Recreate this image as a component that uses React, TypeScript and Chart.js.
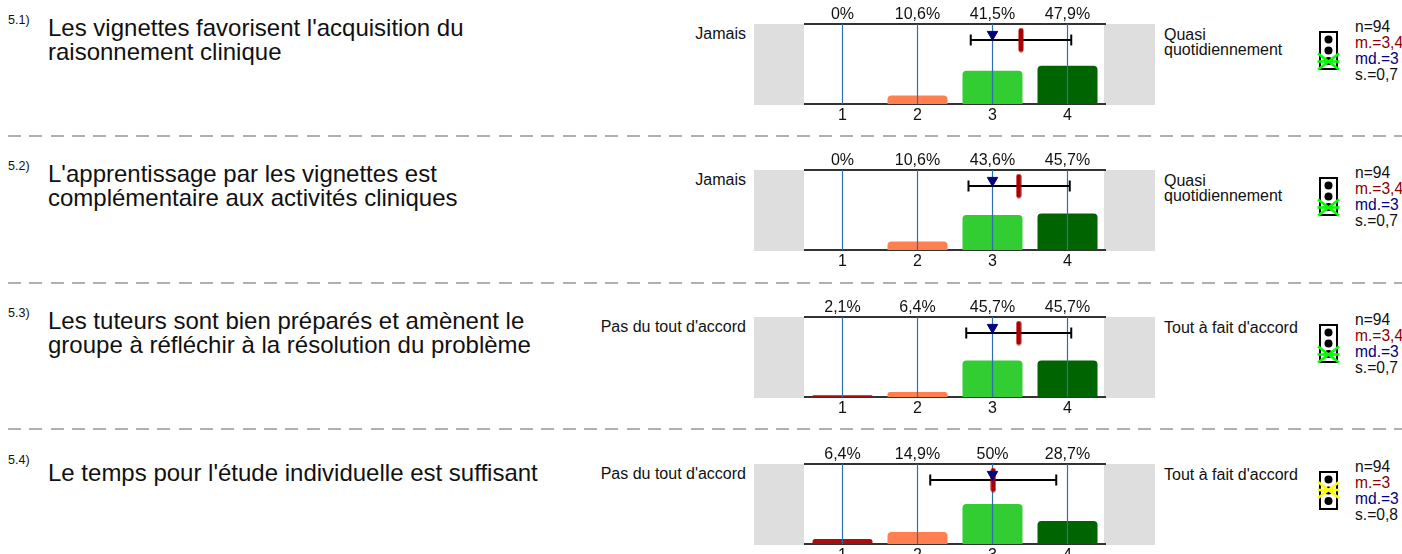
import React, { useEffect, useRef } from "react";
import { Chart, registerables } from "chart.js";

Chart.register(...registerables);

const scaleLabels = ["1", "2", "3", "4"];
const scalePositions = [1, 2, 3, 4];
const barColors = ["#a80e0e", "#ff7f50", "#32cd32", "#006400"];

const ids = ["5.1)", "5.2)", "5.3)", "5.4)"];
const questions = [
  ["Les vignettes favorisent l'acquisition du", "raisonnement clinique"],
  ["L'apprentissage par les vignettes est", "complémentaire aux activités cliniques"],
  ["Les tuteurs sont bien préparés et amènent le", "groupe à réfléchir à la résolution du problème"],
  ["Le temps pour l'étude individuelle est suffisant"],
];
const questionShift = [0, 0, 0, 5];
const leftLabels = ["Jamais", "Jamais", "Pas du tout d'accord", "Pas du tout d'accord"];
const rightLabels = [
  ["Quasi", "quotidiennement"],
  ["Quasi", "quotidiennement"],
  ["Tout à fait d'accord"],
  ["Tout à fait d'accord"],
];

const shares1 = [0, 10.6, 41.5, 47.9];
const shares2 = [0, 10.6, 43.6, 45.7];
const shares3 = [2.1, 6.4, 45.7, 45.7];
const shares4 = [6.4, 14.9, 50, 28.7];
const shareRows = [shares1, shares2, shares3, shares4];
const percentLabels = [
  ["0%", "10,6%", "41,5%", "47,9%"],
  ["0%", "10,6%", "43,6%", "45,7%"],
  ["2,1%", "6,4%", "45,7%", "45,7%"],
  ["6,4%", "14,9%", "50%", "28,7%"],
];

const means = [3.38, 3.35, 3.35, 3.01];
const medians = [3, 3, 3, 3];
const spreadLow = [2.71, 2.68, 2.65, 2.17];
const spreadHigh = [4.05, 4.03, 4.05, 3.85];

const nText = ["n=94", "n=94", "n=94", "n=94"];
const meanText = ["m.=3,4", "m.=3,4", "m.=3,4", "m.=3"];
const medianText = ["md.=3", "md.=3", "md.=3", "md.=3"];
const sdText = ["s.=0,7", "s.=0,7", "s.=0,7", "s.=0,8"];
const lightColors = ["#00ff00", "#00ff00", "#00ff00", "#ffff00"];
const lightCross = [1, 1, 1, 0.5];

const rowTops = [0, 146, 293, 440];
const separators = [135.5, 282.5, 428.5];

const FONT = '"Liberation Sans", Arial, sans-serif';
const INK = "#111111";

function pill(): HTMLCanvasElement {
  const c = document.createElement("canvas");
  c.width = 6;
  c.height = 25;
  const g = c.getContext("2d")!;
  g.fillStyle = "#aa0000";
  g.beginPath();
  (g as any).roundRect(0.5, 0.5, 5, 24, 2.5);
  g.fill();
  return c;
}

function Row({ index }: { index: number }) {
  const ref = useRef<HTMLCanvasElement>(null);
  useEffect(() => {
    const axisFont = { family: FONT, size: 16 };
    const gridLines = scalePositions.map((p) => ({
      type: "line" as const,
      xAxisID: "x2",
      order: 4,
      data: [
        { x: p, y: 0 },
        { x: p, y: 100 },
      ],
      borderColor: "#2b6fb3",
      borderWidth: 1.2,
      pointRadius: 0,
    }));
    const chart = new Chart(ref.current!, {
      type: "bar",
      data: {
        labels: scaleLabels,
        datasets: [
          {
            type: "bar",
            order: 5,
            grouped: false,
            data: shareRows[index],
            backgroundColor: barColors,
            categoryPercentage: 1,
            barPercentage: 0.8,
            borderSkipped: "bottom",
            borderRadius: { topLeft: 4, topRight: 4, bottomLeft: 0, bottomRight: 0 },
          },
          ...gridLines,
          {
            type: "line",
            xAxisID: "x2",
            order: 3,
            data: [
              { x: spreadLow[index], y: 80 },
              { x: spreadHigh[index], y: 80 },
            ],
            borderColor: "#000000",
            borderWidth: 2,
            pointStyle: "line",
            rotation: 90,
            pointRadius: 5.5,
            pointBorderWidth: 2,
            pointBorderColor: "#000000",
          },
          {
            type: "scatter",
            xAxisID: "x2",
            order: 2,
            data: [{ x: means[index], y: 80 }],
            pointStyle: pill(),
          },
          {
            type: "scatter",
            xAxisID: "x2",
            order: 1,
            data: [{ x: medians[index], y: 87 }],
            pointStyle: "triangle",
            rotation: 180,
            pointRadius: 6,
            backgroundColor: "#000080",
            borderColor: "#000080",
          },
        ] as any,
      },
      options: {
        animation: false,
        responsive: false,
        maintainAspectRatio: false,
        layout: { padding: { left: 50, right: 51, top: 0, bottom: 0 } },
        plugins: { legend: { display: false }, tooltip: { enabled: false } },
        scales: {
          x: {
            type: "category",
            position: "bottom",
            offset: true,
            grid: { display: false, drawTicks: false },
            border: { display: true, color: "#333333", width: 2 },
            ticks: { font: axisFont, color: INK, padding: 2, maxRotation: 0, autoSkip: false },
            afterFit: (s: any) => {
              s.height = 26;
            },
          },
          xt: {
            type: "category",
            position: "top",
            offset: true,
            labels: percentLabels[index],
            grid: { display: false, drawTicks: false },
            border: { display: true, color: "#333333", width: 2 },
            ticks: { font: axisFont, color: INK, padding: 0, maxRotation: 0, autoSkip: false },
            afterFit: (s: any) => {
              s.height = 24;
            },
          },
          x2: { type: "linear", display: false, offset: false, min: 0.5, max: 4.5 },
          y: { type: "linear", display: false, min: 0, max: 100 },
        },
      } as any,
    });
    return () => chart.destroy();
  }, [index]);

  const top = rowTops[index];
  const abs = (x: number, y: number, extra: React.CSSProperties = {}): React.CSSProperties => ({
    position: "absolute",
    left: x,
    top: top + y,
    whiteSpace: "nowrap",
    ...extra,
  });
  const crossY = lightCross[index] === 1 ? 61.5 : 50;
  const crossColor = lightColors[index];
  return (
    <>
      <div style={abs(8, 13, { fontSize: 12.5, lineHeight: "14px" })}>{ids[index]}</div>
      {questions[index].map((q, i) => (
        <div key={i} style={abs(48, 16 + questionShift[index] + i * 24, { fontSize: 24, lineHeight: "24px" })}>
          {q}
        </div>
      ))}
      <div style={abs(0, 26, { width: 746, textAlign: "right", fontSize: 16, lineHeight: "16px" })}>
        {leftLabels[index]}
      </div>
      {rightLabels[index].map((t, i) => (
        <div key={i} style={abs(1164, 27 + i * 15, { fontSize: 16, lineHeight: "16px" })}>
          {t}
        </div>
      ))}
      <div style={abs(754, 24, { width: 50, height: 81, background: "#dedede" })} />
      <div style={abs(1104, 24, { width: 51, height: 81, background: "#dedede" })} />
      <canvas
        ref={ref}
        width={401}
        height={130}
        style={{ position: "absolute", left: 755, top, width: 401, height: 130 }}
      />
      <svg width={26} height={44} viewBox="0 0 26 44" style={{ position: "absolute", left: 1316, top: top + 29 }}>
        <rect x={4} y={3} width={17} height={37} fill="#ffffff" stroke="#000000" strokeWidth={2} />
        <circle cx={12.5} cy={10.5} r={4} fill="#000000" />
        <circle cx={12.5} cy={21.5} r={4} fill="#000000" />
        <circle cx={12.5} cy={32} r={4} fill="#000000" />
        <g stroke={crossColor} strokeWidth={2.6} transform={`translate(0 ${crossY - 29 - 21})`}>
          <line x1={1.5} y1={21} x2={23.5} y2={21} />
          <line x1={2} y1={13} x2={23} y2={29} />
          <line x1={2} y1={29} x2={23} y2={13} />
        </g>
      </svg>
      <div style={abs(1355, 19, { fontSize: 15.6, lineHeight: "16px", color: INK })}>{nText[index]}</div>
      <div style={abs(1355, 35, { fontSize: 15.6, lineHeight: "16px", color: "#8b0000" })}>{meanText[index]}</div>
      <div style={abs(1355, 51, { fontSize: 15.6, lineHeight: "16px", color: "#000080" })}>{medianText[index]}</div>
      <div style={abs(1355, 67, { fontSize: 15.6, lineHeight: "16px", color: INK })}>{sdText[index]}</div>
    </>
  );
}

export default function App() {
  useEffect(() => {
    document.body.style.margin = "0";
    document.documentElement.style.overflow = "hidden";
  }, []);
  return (
    <div
      style={{
        position: "relative",
        width: 1402,
        height: 554,
        overflow: "hidden",
        fontFamily: FONT,
        color: INK,
        background: "#ffffff",
      }}
    >
      {rowTops.map((_, i) => (
        <Row key={i} index={i} />
      ))}
      {separators.map((y) => (
        <div
          key={y}
          style={{
            position: "absolute",
            left: 8,
            top: y - 1,
            width: 1394,
            height: 2,
            background: "repeating-linear-gradient(90deg,#b0b0b0 0,#b0b0b0 13px,transparent 13px,transparent 21.33px)",
          }}
        />
      ))}
    </div>
  );
}
